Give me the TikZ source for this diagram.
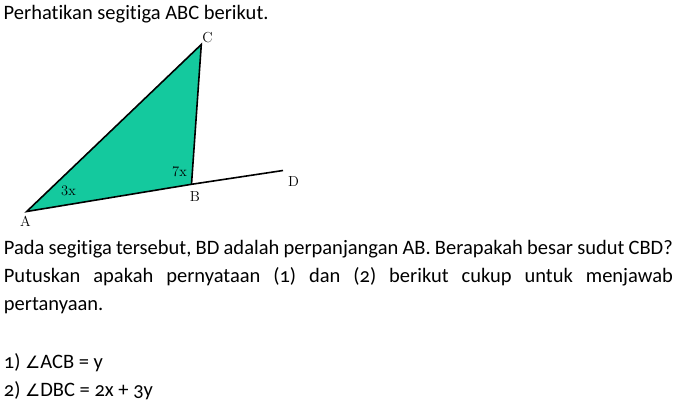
\documentclass[tikz,border=0pt]{standalone}
\usepackage{fontspec}
\newfontfamily\calibri{Carlito}[Numbers=OldStyle,Ligatures=NoCommon]
\newfontfamily\dejavu{DejaVu Sans}
\definecolor{tealfill}{RGB}{20,201,158}
\newcommand{\angsym}{{\dejavu\fontsize{17}{20}\selectfont ∠}}
\begin{document}
\begin{tikzpicture}[x=1pt,y=-1pt,
  body/.style={anchor=base west,inner sep=0pt,font=\calibri\fontsize{20.5}{24}\selectfont},
  lab/.style={inner sep=0pt,font=\fontsize{14.5}{17}\selectfont},
  edge/.style={line width=1.6pt,line join=miter}]
\useasboundingbox (0,0) rectangle (677,406);
\coordinate (A) at (26.7,211.5);
\coordinate (B) at (191.5,184.3);
\coordinate (C) at (201.3,44.5);
\coordinate (D) at (283,170.5);
\fill[tealfill] (A)--(B)--(C)--cycle;
\draw[edge] (B)--(C)--(A)--(B)--(D);
\node[lab] (lC) at (207.5,37.5) {C};
\node[lab] (lD) at (293.5,182) {D};
\node[lab] (lB) at (195,197) {B};
\node[lab] (lA) at (25.5,221) {A};
\node[lab] (l3) at (68.5,191) {3x};
\node[lab] (l7) at (179.5,171.5) {7x};
\node[body] (t0) at (3.5,20) {Perhatikan segitiga ABC berikut.};
\node[body] (t1) at (3.7,254.3) {\makebox[669pt][s]{Pada segitiga tersebut, BD adalah perpanjangan AB. Berapakah besar sudut CBD?}};
\node[body] (t2) at (3.7,282.3) {\makebox[669pt][s]{Putuskan apakah pernyataan (1) dan (2) berikut cukup untuk menjawab}};
\node[body] (t3) at (3.7,310.3) {pertanyaan.};
\node[body] (t4) at (3.7,368.3) {1) \angsym ACB = y};
\node[body] (t5) at (3.7,396.6) {2) \angsym DBC = 2x + 3y};
\end{tikzpicture}
\end{document}
